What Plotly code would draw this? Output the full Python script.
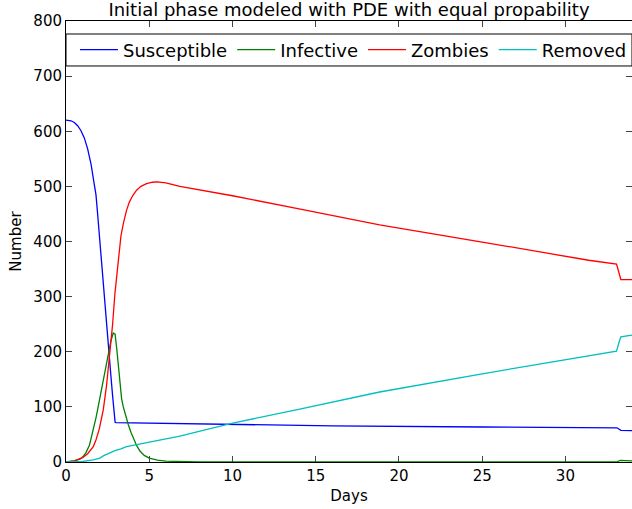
import plotly.graph_objects as go

# --- data ---
s_days = [0, 0.3, 0.5, 0.7, 0.9, 1.1, 1.3, 1.5, 1.7, 1.8, 1.9, 2.0, 2.1, 2.2, 2.3, 2.4, 2.5, 2.6, 2.7, 2.8, 2.9, 2.95, 3.0, 10, 16, 25, 33.1, 33.33, 34]
s_vals = [620, 619, 616, 610, 601, 588, 568, 541, 503, 485, 450, 412, 372, 332, 292, 255, 222, 190, 155, 120, 88, 72, 71.5, 68, 65.5, 63.5, 62, 57.5, 57]

i_days = [0, 0.5, 0.84, 1.0, 1.2, 1.4, 1.5, 1.64, 1.8, 1.9, 2.05, 2.24, 2.4, 2.5, 2.6, 2.7, 2.84, 2.95, 3.05, 3.14, 3.24, 3.34, 3.44, 3.54, 3.74, 3.9, 4.04, 4.24, 4.44, 4.7, 5.0, 5.5, 6.0, 7.0, 8.0, 33.05, 33.3, 34]
i_vals = [0, 2, 5, 9, 17, 30, 42, 58, 80, 95, 118, 143, 168, 185, 202, 220, 234, 232, 205, 175, 143, 115, 100, 88, 68, 54, 43, 30, 20, 12, 7, 3.5, 1.5, 0.5, 0, 0, 3, 2]

z_days = [0, 0.5, 1.0, 1.3, 1.64, 1.8, 2.0, 2.24, 2.44, 2.64, 2.8, 2.94, 3.0, 3.1, 3.2, 3.3, 3.44, 3.64, 3.8, 4.0, 4.24, 4.5, 4.84, 5.2, 5.5, 6.0, 6.84, 8, 10, 14, 18.84, 25, 31.4, 33.07, 33.33, 34]
z_vals = [0, 2, 8, 15, 28, 40, 60, 95, 140, 195, 250, 306, 325, 355, 385, 410, 432, 457, 471, 483, 493, 500, 505, 507.5, 508, 506.5, 500, 494, 483, 459, 430, 399, 366, 359, 331, 331]

r_days = [0, 1.0, 1.64, 2.04, 2.24, 2.5, 2.75, 2.94, 3.3, 3.64, 6.84, 9.94, 14.04, 18.84, 25, 33.07, 33.2, 33.33, 34]
r_vals = [0, 1, 4, 7, 11, 15, 18, 20.5, 24, 28, 47, 70, 96, 127, 160, 201, 215, 227, 230]

series = [
    ("Susceptible", s_days, s_vals, "#0000ff"),
    ("Infective", i_days, i_vals, "#008000"),
    ("Zombies", z_days, z_vals, "#ff0000"),
    ("Removed", r_days, r_vals, "#00bfbf"),
]

x_ticks = [0, 5, 10, 15, 20, 25, 30]
y_ticks = [0, 100, 200, 300, 400, 500, 600, 700, 800]

fig = go.Figure()
for name, d, v, c in series:
    fig.add_trace(go.Scatter(x=d, y=v, mode="lines", name=name,
                             line=dict(color=c, width=1.3)))

font = "DejaVu Sans"
plot_h = 509 - 21 - 47
fig.update_layout(
    width=632, height=509,
    margin=dict(l=66, r=0, t=21, b=47),
    paper_bgcolor="white", plot_bgcolor="white",
    font=dict(family=font, size=15, color="black"),
    title=dict(text="Initial phase modeled with PDE with equal propability",
               x=0.5, xanchor="center", y=1 - 10 / 509, yanchor="middle",
               xref="paper", font=dict(size=18)),
    showlegend=True,
    legend=dict(orientation="h", x=9 / 566, xanchor="left",
                y=1 - (50 - 21) / plot_h, yanchor="middle",
                borderwidth=0, bgcolor="rgba(0,0,0,0)",
                font=dict(size=18), itemwidth=38, entrywidth=0, tracegroupgap=0),
    shapes=[dict(type="rect", xref="paper", yref="y", x0=0, x1=1, y0=718.4, y1=776.4,
                 line=dict(color="black", width=1), fillcolor="white", layer="below")],
)
fig.update_xaxes(range=[0, 34], tickvals=x_ticks, ticks="inside", ticklen=6,
                 showline=True, linecolor="black", linewidth=1, mirror="allticks",
                 showgrid=False, zeroline=False,
                 title=dict(text="Days", font=dict(size=15), standoff=6))
fig.update_yaxes(range=[0, 800], tickvals=y_ticks, ticks="inside", ticklen=6,
                 showline=True, linecolor="black", linewidth=1, mirror="allticks",
                 showgrid=False, zeroline=False,
                 title=dict(text="Number", font=dict(size=15), standoff=8))

fig.write_html("out.html")
